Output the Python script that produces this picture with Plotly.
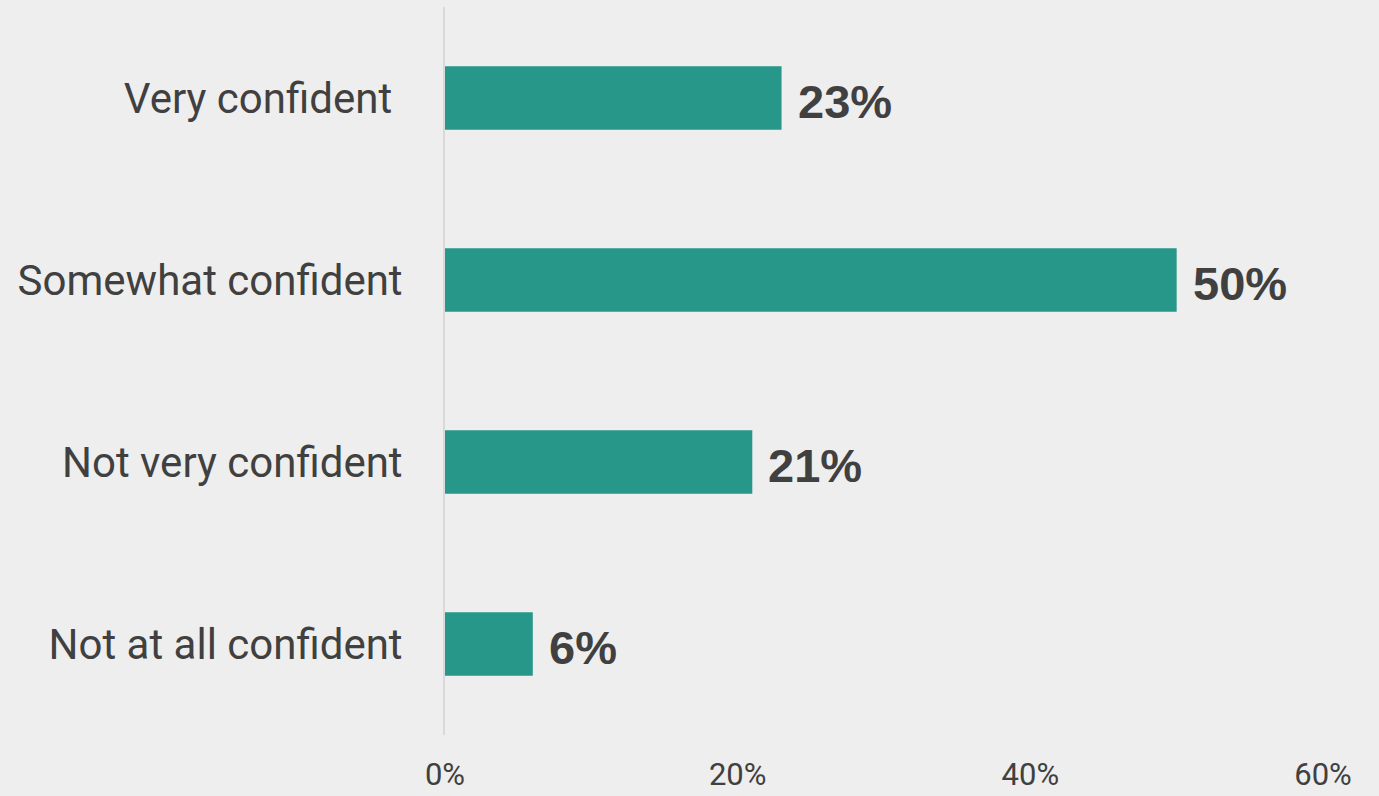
import plotly.graph_objects as go

categories = ["Very confident\u00a0", "Somewhat confident", "Not very confident", "Not at all confident"]
values = [23, 50, 21, 6]
tick_vals = [0, 20, 40, 60]
tick_text = ["0%", "20%", "40%", "60%"]

BG = "#eeeeee"
BAR = "#269789"
TXT = "#404040"
FONT = "Roboto"
LABEL_FONT = "Liberation Sans"

fig = go.Figure()
fig.add_trace(go.Bar(
    x=values, y=categories, orientation="h",
    marker=dict(color=BAR, line=dict(width=0)),
    hoverinfo="skip",
))

for c, v in zip(categories, values):
    fig.add_annotation(
        x=v, y=c, text=f"<b>{v}%</b>", showarrow=False,
        xanchor="left", yanchor="middle", xshift=14, yshift=-3,
        font=dict(family=LABEL_FONT, size=47, color=TXT),
    )

fig.update_layout(
    width=1379, height=796,
    margin=dict(l=445, r=56, t=7, b=61),
    paper_bgcolor=BG, plot_bgcolor=BG,
    bargap=0.65,
    showlegend=False,
    font=dict(family=FONT, color=TXT),
)
fig.update_xaxes(
    range=[0, 60], tickvals=tick_vals, ticktext=tick_text,
    showgrid=False, zeroline=False, showline=False, automargin=False,
    ticks="outside", ticklen=12, tickcolor="rgba(0,0,0,0)",
    tickfont=dict(family=FONT, size=31, color=TXT),
)
fig.update_yaxes(
    categoryorder="array", categoryarray=categories[::-1],
    range=[-0.5, 3.5], automargin=False,
    showgrid=False, zeroline=False,
    showline=True, linecolor="#d9d9d9", linewidth=2,
    ticks="outside", ticklen=32, tickcolor="rgba(0,0,0,0)",
    tickfont=dict(family=FONT, size=42, color=TXT),
)

fig.write_html("out.html")
